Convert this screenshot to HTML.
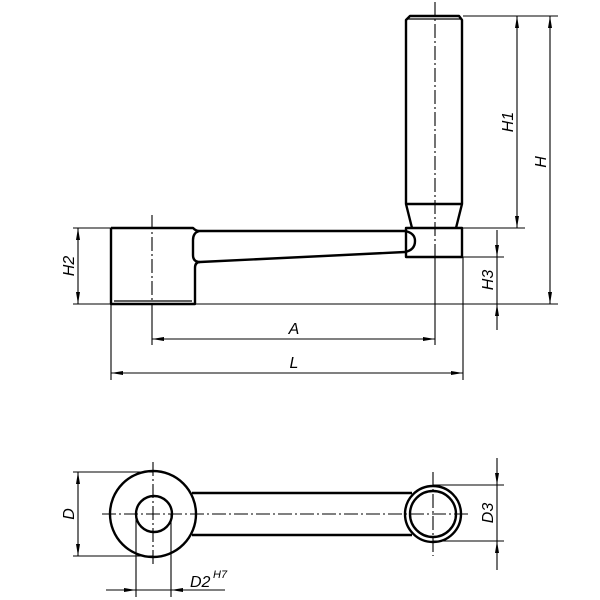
<!DOCTYPE html>
<html><head><meta charset="utf-8"><style>
html,body{margin:0;padding:0;background:#fff;}
svg{display:block;}
text{font-family:"Liberation Sans",sans-serif;font-style:italic;fill:#000;}
</style></head><body>
<svg width="600" height="600" viewBox="0 0 600 600" xmlns="http://www.w3.org/2000/svg">
<defs>
<marker id="ar" viewBox="0 0 12 4" refX="12" refY="2" markerWidth="12" markerHeight="4" markerUnits="userSpaceOnUse" orient="auto-start-reverse"><path d="M0,0 L12,2 L0,4 z" fill="#000"/></marker>
</defs>
<g fill="none" stroke="#000">
<g stroke-width="1.1">
<line x1="73" y1="304" x2="558" y2="304"/>
<line x1="463" y1="16" x2="558" y2="16"/>
<line x1="463" y1="228" x2="525" y2="228"/>
<line x1="73" y1="228" x2="111" y2="228"/>
<line x1="463" y1="257" x2="504" y2="257"/>
<line x1="111" y1="304" x2="111" y2="380"/>
<line x1="463" y1="257" x2="463" y2="380"/>
<line x1="152" y1="304" x2="152" y2="345"/>
<line x1="435" y1="258" x2="435" y2="345"/>
<line x1="550" y1="16" x2="550" y2="304" marker-start="url(#ar)" marker-end="url(#ar)"/>
<line x1="517" y1="16" x2="517" y2="228" marker-start="url(#ar)" marker-end="url(#ar)"/>
<line x1="78" y1="228" x2="78" y2="304" marker-start="url(#ar)" marker-end="url(#ar)"/>
<line x1="152" y1="339" x2="435" y2="339" marker-start="url(#ar)" marker-end="url(#ar)"/>
<line x1="111" y1="373" x2="463" y2="373" marker-start="url(#ar)" marker-end="url(#ar)"/>
<line x1="497" y1="230" x2="497" y2="257" marker-end="url(#ar)"/>
<line x1="497" y1="304" x2="497" y2="257"/>
<line x1="497" y1="330" x2="497" y2="304" marker-end="url(#ar)"/>
<line x1="73" y1="472" x2="153" y2="472"/>
<line x1="73" y1="556" x2="153" y2="556"/>
<line x1="78" y1="472" x2="78" y2="556" marker-start="url(#ar)" marker-end="url(#ar)"/>
<line x1="136" y1="514" x2="136" y2="597"/>
<line x1="171" y1="514" x2="171" y2="597"/>
<line x1="106" y1="590" x2="136" y2="590" marker-end="url(#ar)"/>
<line x1="225" y1="590" x2="171" y2="590" marker-end="url(#ar)"/>
<line x1="136" y1="590" x2="171" y2="590"/>
<line x1="433" y1="485" x2="504" y2="485"/>
<line x1="433" y1="541" x2="504" y2="541"/>
<line x1="497" y1="458" x2="497" y2="485" marker-end="url(#ar)"/>
<line x1="497" y1="485" x2="497" y2="541"/>
<line x1="497" y1="570" x2="497" y2="541" marker-end="url(#ar)"/>
</g>
<g stroke-width="1.1" stroke-dasharray="14,3,2,3">
<line x1="152" y1="215" x2="152" y2="304"/>
<line x1="435" y1="2" x2="435" y2="258"/>
<line x1="102" y1="514" x2="470" y2="514"/>
<line x1="153" y1="462" x2="153" y2="566"/>
<line x1="433" y1="472" x2="433" y2="556"/>
</g>
<g stroke-width="2.4" stroke-linejoin="round">
<path d="M111,228 L193,228 Q196,231 199,231 L405,231"/>
<path d="M111,228 L111,304 L195,304 L195,268 Q195,262 200,262 L405,252"/>
<path d="M199,231 Q193,233 193,240 L193,255 Q193,262 200,262"/>
<path d="M405,231 Q415,233 415,241 Q415,250 405,252"/>
<path d="M114,301 L192,301" stroke-width="1.2"/>
<rect x="406" y="228" width="56" height="29"/>
<path d="M412,228 L406,204 L406,20 L410,16 L459,16 L462,20 L462,204 L456,228"/>
<line x1="406" y1="204" x2="462" y2="204"/>
<line x1="408" y1="19" x2="460" y2="19" stroke-width="1.2"/>
<circle cx="153" cy="514" r="43"/>
<circle cx="154" cy="514" r="18"/>
<line x1="192" y1="493" x2="412" y2="493"/>
<line x1="192" y1="535" x2="412" y2="535"/>
<circle cx="433" cy="514" r="28"/>
<circle cx="433" cy="514" r="23"/>
</g>
</g>
<g font-size="16">
<text x="294" y="334" text-anchor="middle">A</text>
<text x="294" y="368" text-anchor="middle">L</text>
<text transform="translate(513,122) rotate(-90)" text-anchor="middle">H1</text>
<text transform="translate(546,162) rotate(-90)" text-anchor="middle">H</text>
<text transform="translate(74,266) rotate(-90)" text-anchor="middle">H2</text>
<text transform="translate(493,280) rotate(-90)" text-anchor="middle">H3</text>
<text transform="translate(74,514) rotate(-90)" text-anchor="middle">D</text>
<text transform="translate(493,513) rotate(-90)" text-anchor="middle">D3</text>
<text x="190" y="587">D2</text>
<text x="213" y="578" font-size="11">H7</text>
</g>
</svg>
</body></html>
